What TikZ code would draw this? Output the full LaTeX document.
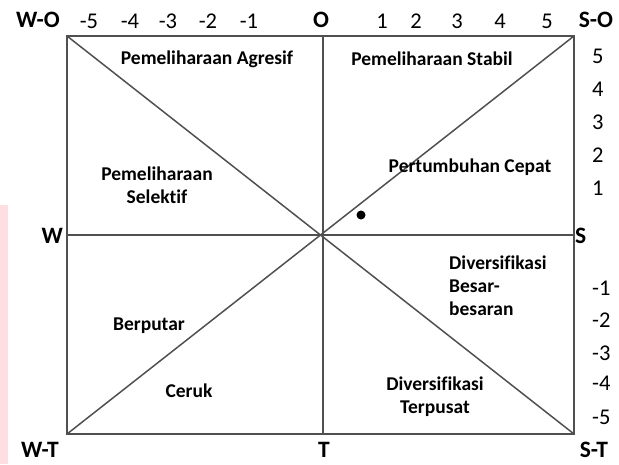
\documentclass[tikz,border=0pt]{standalone}
\usepackage{fontspec}
\setmainfont[Ligatures=NoCommon]{Carlito}
\usetikzlibrary{positioning}
\definecolor{framegray}{RGB}{80,80,80}
\definecolor{edgepink}{RGB}{255,222,227}
\tikzset{
  frame line/.style={draw=framegray, line width=1.5pt},
  corner label/.style={font=\fontsize{23.5}{26}\selectfont\bfseries, inner sep=0pt},
  axis number/.style={font=\fontsize{22.5}{24}\selectfont, inner sep=0pt},
  strategy label/.style={font=\fontsize{19.5}{23}\selectfont\bfseries, align=center, inner sep=0pt}
}

\begin{document}
\begin{tikzpicture}[x=1pt,y=-1pt]
  \useasboundingbox (0,0) rectangle (619,464);
  \fill[edgepink] (0,205) rectangle (8,464);

  % corners and axis ends of the box
  \coordinate (wo) at (67,36);
  \coordinate (so) at (574,36);
  \coordinate (wt) at (67,434);
  \coordinate (st) at (574,434);
  \coordinate (o) at (323,36);
  \coordinate (t) at (323,434);
  \coordinate (w) at (67,235);
  \coordinate (s) at (574,235);

  \draw[frame line] (wo) -- (so) -- (st) -- (wt) -- cycle;
  \draw[frame line] (o) -- (t);
  \draw[frame line] (w) -- (s);
  \draw[frame line] (wo) -- (st);
  \draw[frame line] (wt) -- (so);

  \node[circle, fill=black, inner sep=0pt, minimum size=9pt] (pos) at (361,215) {};

  % corner and axis labels
  \node[corner label] (lwo) at (38,20) {W-O};
  \node[corner label] (lo) at (321,20) {O};
  \node[corner label] (lso) at (596,20) {S-O};
  \node[corner label, anchor=east] (lw) at (63,236) {W};
  \node[corner label, anchor=west] (ls) at (575,236) {S};
  \node[corner label] (lwt) at (40,450) {W-T};
  \node[corner label] (lt) at (324,450) {T};
  \node[corner label] (lst) at (594,450) {S-T};

  % scale numbers
  \foreach \v/\x in {-5/89,-4/130,-3/168,-2/208,-1/249,1/382,2/416,3/457,4/500,5/547}
    \node[axis number] at (\x,21) {\v};
  \foreach \v/\y in {5/56,4/89,3/122,2/155,1/188,-1/288,-2/320,-3/353,-4/383,-5/417}
    \node[axis number, anchor=west] at (592,\y) {\v};

  % strategy regions
  \node[strategy label] (agresif) at (207,59) {Pemeliharaan Agresif};
  \node[strategy label] (stabil) at (432,59) {Pemeliharaan Stabil};
  \node[strategy label] (selektif) at (157,185) {Pemeliharaan\\Selektif};
  \node[strategy label] (cepat) at (470,167) {Pertumbuhan Cepat};
  \node[strategy label, align=left, anchor=north west] (besar) at (449,256) {Diversifikasi\\Besar-\\besaran};
  \node[strategy label] (berputar) at (149,326) {Berputar};
  \node[strategy label] (ceruk) at (189,391) {Ceruk};
  \node[strategy label] (terpusat) at (435,397) {Diversifikasi\\Terpusat};
\end{tikzpicture}
\end{document}
